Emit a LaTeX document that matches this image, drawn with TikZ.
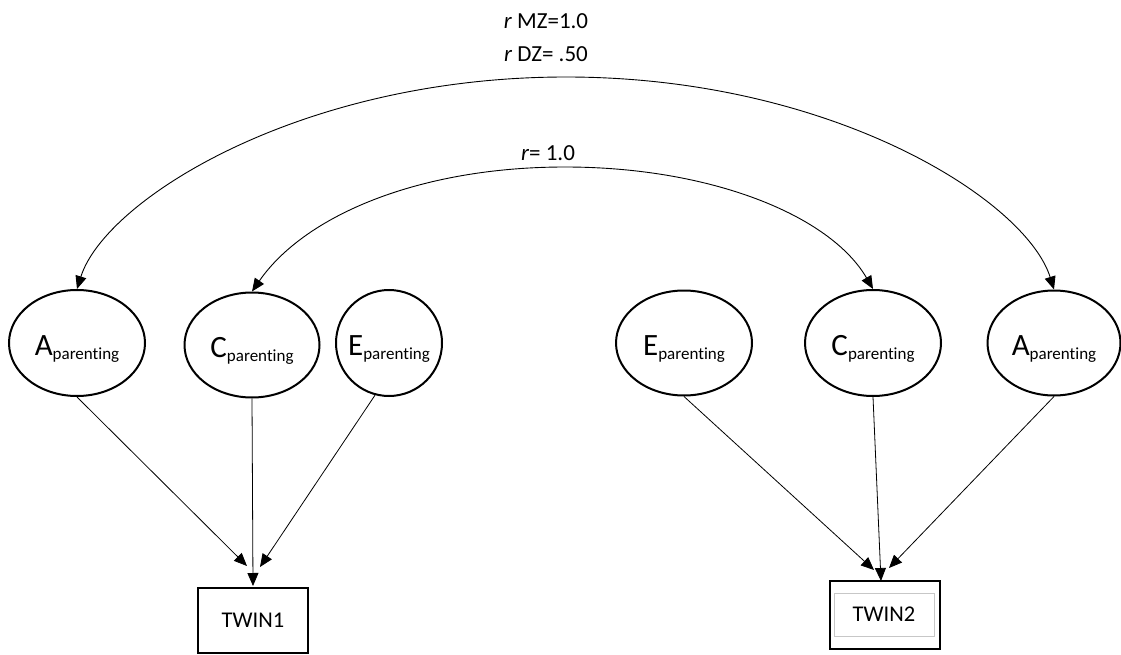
\documentclass[tikz,border=0pt]{standalone}
\usepackage{fontspec}
\setmainfont{Carlito}[Ligatures=NoCommon]
\usetikzlibrary{arrows.meta,shapes.geometric}
\newcommand\latlab[1]{{\fontsize{31}{31}\selectfont #1}\raisebox{-4pt}{\fontsize{17}{17}\selectfont parenting}}
\begin{document}
\begin{tikzpicture}[x=1pt,y=-1pt,
  latent/.style={ellipse,draw,line width=2pt,inner sep=0pt},
  latlabel/.style={inner sep=0pt,text height=24pt,text depth=0pt},
  obs/.style={rectangle,draw,line width=2pt,inner sep=0pt,font=\fontsize{22.5}{26}\selectfont},
  regpath/.style={line width=0.8pt,-{Triangle[length=13pt,width=11pt]}},
  cov/.style={line width=0.9pt,{Triangle[length=13pt,width=11pt]}-{Triangle[length=13pt,width=11pt]}},
  lbl/.style={font=\fontsize{23}{26}\selectfont,inner sep=0pt}]
\useasboundingbox (0,0) rectangle (1121,655);

% latent variables
\node[latent,minimum width=136pt,minimum height=106pt,label={[latlabel]center:\latlab{A}}] (A1) at (77,343) {};
\node[latent,minimum width=135pt,minimum height=105pt,label={[latlabel]center:\latlab{C}}] (C1) at (252,345) {};
\node[latent,minimum width=106pt,minimum height=106pt,label={[latlabel]center:\latlab{E}}] (E1) at (389,343) {};
\node[latent,minimum width=136pt,minimum height=105pt,label={[latlabel]center:\latlab{E}}] (E2) at (684,343) {};
\node[latent,minimum width=136pt,minimum height=106pt,label={[latlabel]center:\latlab{C}}] (C2) at (873,343) {};
\node[latent,minimum width=133pt,minimum height=105pt,label={[latlabel]center:\latlab{A}}] (A2) at (1054,343) {};

% observed
\node[obs,minimum width=110pt,minimum height=65pt,text height=14pt,text depth=-2pt] (T1) at (253,620.5) {TWIN1};
\node[obs,minimum width=110pt,minimum height=68pt] (T2) at (885,615) {};
\node[rectangle,draw=black!22,line width=0.8pt,inner sep=0pt,minimum width=100pt,minimum height=43pt,text height=14pt,text depth=-2pt,font=\fontsize{22.5}{26}\selectfont] (T2in) at (884,614.5) {TWIN2};

% arrow end points
\coordinate (t1a) at (247,566);
\coordinate (t1c) at (253,586);
\coordinate (t1e) at (260,567);
\coordinate (t2e) at (874,570);
\coordinate (t2c) at (881,581);
\coordinate (t2a) at (889,568);

\draw[regpath] (A1.south) -- (t1a);
\draw[regpath] (C1.south) -- (t1c);
\draw[regpath] (E1.255) -- (t1e);
\draw[regpath] (E2.south) -- (t2e);
\draw[regpath] (C2.south) -- (t2c);
\draw[regpath] (A2.south) -- (t2a);

% correlations
\draw[cov] (A1.north) .. controls (105,200) and (300,77) .. (566,77)
                      .. controls (832,77) and (1026,200) .. (A2.north);
\draw[cov] (C1.north) .. controls (305,215) and (420,167) .. (565,167)
                      .. controls (710,167) and (830,215) .. (C2.north);

\node[lbl] (lmz) at (546,21) {\textit{r} MZ=1.0};
\node[lbl] (ldz) at (546,54) {\textit{r} DZ= .50};
\node[lbl] (lr) at (548,153) {\textit{r}= 1.0};
\end{tikzpicture}
\end{document}
